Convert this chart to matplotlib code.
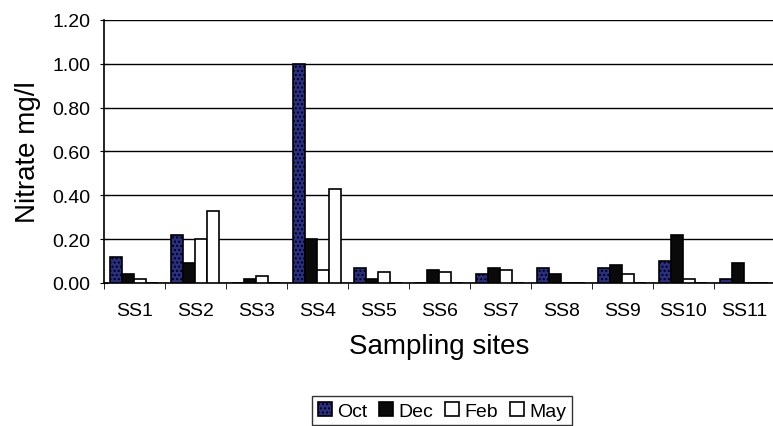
import matplotlib
matplotlib.use("Agg")
import matplotlib.pyplot as plt
import numpy as np

sites = ["SS1", "SS2", "SS3", "SS4", "SS5", "SS6", "SS7", "SS8", "SS9", "SS10", "SS11"]
oct_vals = [0.12, 0.22, 0.00, 1.00, 0.07, 0.00, 0.04, 0.07, 0.07, 0.10, 0.02]
dec_vals = [0.04, 0.09, 0.02, 0.20, 0.02, 0.06, 0.07, 0.04, 0.08, 0.22, 0.09]
feb_vals = [0.02, 0.20, 0.03, 0.06, 0.05, 0.05, 0.06, 0.00, 0.04, 0.02, 0.00]
may_vals = [0.00, 0.33, 0.00, 0.43, 0.00, 0.00, 0.00, 0.00, 0.00, 0.00, 0.00]
series_names = ["Oct", "Dec", "Feb", "May"]
yticks = [0.0, 0.2, 0.4, 0.6, 0.8, 1.0, 1.2]

plt.rcParams['font.family'] = ['Liberation Sans', 'DejaVu Sans']

fig = plt.figure(figsize=(7.73, 4.27), dpi=100)
ax = fig.add_axes([0.1345, 0.335, 0.868, 0.616])

x = np.arange(len(sites))
w = 0.197
series = [oct_vals, dec_vals, feb_vals, may_vals]
faces = ["#2a2f86", "#0a0a0a", "white", "white"]
hatches = ["....", None, None, None]
for i, (vals, fc, h, name) in enumerate(zip(series, faces, hatches, series_names)):
    ax.bar(x + (i - 1.5) * w, vals, width=w, color=fc, edgecolor="black",
           linewidth=1.2, hatch=h, label=name, zorder=3)

ax.set_xlim(-0.5, len(sites) - 0.5)
ax.set_ylim(0, 1.2)
ax.set_yticks(yticks)
ax.set_yticklabels([f"{v:.2f}" for v in yticks], fontsize=14)
ax.yaxis.grid(True, color="black", linewidth=1.0, zorder=0)
ax.set_axisbelow(True)
ax.set_xticks(x)
ax.set_xticklabels(sites, fontsize=14)
ax.tick_params(axis="x", length=0, pad=14)
ax.set_xticks(np.arange(len(sites) + 1) - 0.5, minor=True)
ax.tick_params(axis="x", which="minor", length=4, direction="out")
ax.tick_params(axis="y", length=6, direction="inout", pad=7)
for s in ["top", "right"]:
    ax.spines[s].set_visible(False)
ax.spines["left"].set_linewidth(1.2)
ax.spines["bottom"].set_linewidth(1.2)

ax.set_ylabel("Nitrate mg/l", fontsize=20, labelpad=8)
ax.set_xlabel("Sampling sites", fontsize=20, labelpad=10)

leg = ax.legend(loc="upper center", bbox_to_anchor=(0.504, -0.43), ncol=4,
                frameon=True, fancybox=False, edgecolor="black", fontsize=14,
                handlelength=0.7, handleheight=0.7, handletextpad=0.3,
                columnspacing=0.6, borderpad=0.3, borderaxespad=0)
leg.get_frame().set_linewidth(1.0)

fig.savefig("out.png", dpi=100)
